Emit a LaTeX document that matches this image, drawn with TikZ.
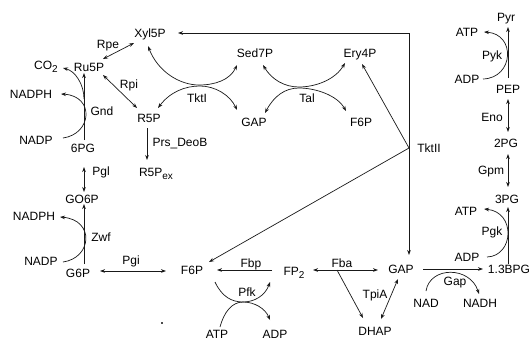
\documentclass[tikz,border=0pt]{standalone}
\usepackage{fontspec}
\setmainfont{Liberation Sans}
\usetikzlibrary{arrows.meta,calc}
\newcommand{\mysub}[1]{\raisebox{-0.45ex}{\fontsize{10}{10}\selectfont #1}}
\begin{document}
\begin{tikzpicture}[x=1pt,y=-1pt,
  lbl/.style={inner sep=0pt, text height=8.6pt, text depth=0pt, font=\fontsize{12}{14}\selectfont},
  ln/.style={line width=0.7pt, draw=black!90},
  >={Stealth[length=5pt,width=3.6pt]}]
\useasboundingbox (0,0) rectangle (532,341);
% nodes
\node[lbl] (nXyl) at (150,33) {Xyl5P};
\node[lbl] (nRpe) at (108,44) {Rpe};
\node[lbl] (nCO2) at (46,65) {CO\mysub{2}};
\node[lbl] (nRu) at (89,67) {Ru5P};
\node[lbl] (nRpi) at (129,84) {Rpi};
\node[lbl] (nNADPHa) at (31,94) {NADPH};
\node[lbl] (nGnd) at (102,111) {Gnd};
\node[lbl] (nR5P) at (149,118) {R5P};
\node[lbl] (nNADPa) at (36,140) {NADP};
\node[lbl] (n6PG) at (83,148) {6PG};
\node[lbl] (nPrs) at (180,142) {Prs\_DeoB};
\node[lbl] (nPgl) at (101,171) {Pgl};
\node[lbl] (nR5Pex) at (156,172) {R5P\mysub{ex}};
\node[lbl] (nGO6P) at (82,199) {GO6P};
\node[lbl] (nNADPHb) at (34,216) {NADPH};
\node[lbl] (nZwf) at (101,237) {Zwf};
\node[lbl] (nNADPb) at (41,261) {NADP};
\node[lbl] (nG6P) at (78,273) {G6P};
\node[lbl] (nPgi) at (131,260) {Pgi};
\node[lbl] (nF6Pb) at (192,270) {F6P};
\node[lbl] (nFbp) at (251,263) {Fbp};
\node[lbl] (nFP2) at (294,271) {FP\mysub{2}};
\node[lbl] (nFba) at (342,263) {Fba};
\node[lbl] (nPfk) at (247,292) {Pfk};
\node[lbl] (nATPc) at (217,334) {ATP};
\node[lbl] (nADPc) at (275,334) {ADP};
\node[lbl] (nDHAP) at (375,331) {DHAP};
\node[lbl] (nTpiA) at (375,294) {TpiA};
\node[lbl] (nGAPb) at (401,269) {GAP};
\node[lbl] (nGap) at (455,281) {Gap};
\node[lbl] (nNAD) at (426,303) {NAD};
\node[lbl] (nNADH) at (480,303) {NADH};
\node[lbl] (nBPG) at (509,269) {1.3BPG};
\node[lbl] (nADPb) at (467,257) {ADP};
\node[lbl] (nPgk) at (492,231) {Pgk};
\node[lbl] (nATPb) at (466,211) {ATP};
\node[lbl] (n3PG) at (507,199) {3PG};
\node[lbl] (nGpm) at (491,170) {Gpm};
\node[lbl] (n2PG) at (506,143) {2PG};
\node[lbl] (nTktII) at (429,148) {TktII};
\node[lbl] (nEno) at (492,117) {Eno};
\node[lbl] (nPEP) at (508,89) {PEP};
\node[lbl] (nADPa) at (467,79) {ADP};
\node[lbl] (nPyk) at (492,55) {Pyk};
\node[lbl] (nATPa) at (467,32) {ATP};
\node[lbl] (nPyr) at (506,17) {Pyr};
\node[lbl] (nEry) at (360,53) {Ery4P};
\node[lbl] (nSed) at (255,53) {Sed7P};
\node[lbl] (nTktI) at (197,98) {TktI};
\node[lbl] (nGAPa) at (254,122) {GAP};
\node[lbl] (nTal) at (307,98) {Tal};
\node[lbl] (nF6Pa) at (361,122) {F6P};
\node[inner sep=0pt, minimum size=1.2pt, fill=black!70] (ndot) at (162,323) {};
% junction coordinates
\coordinate (gndB) at ($(n6PG)+(1,-49)$);
\coordinate (tk) at ($(nTktII)+(-20,0)$);
\coordinate (tkTop) at ($(nTktII)+(-20,-115)$);
\coordinate (fb) at ($(nFP2)+(43,-1)$);
% Rpe, Rpi
\draw[ln,<->] ($(nRu)+(14,-8)$) -- ($(nXyl)+(-16,10)$);
\draw[ln,<->] ($(nRu)+(14,8)$) -- ($(nR5P)+(-12,-10)$);
% Gnd
\draw[ln,->] ($(n6PG)+(1,-8)$) -- ($(nRu)+(-5,6)$);
\draw[ln,->] ($(nNADPa)+(27,-2)$) .. controls (92,134) and (95,96) .. ($(nNADPHa)+(30,0)$);
\draw[ln,->] (gndB) .. controls (84,84) and (75,71) .. ($(nCO2)+(17,3)$);
% Pgl
\draw[ln,<->] ($(n6PG)+(1,19)$) -- ($(nGO6P)+(2,-7)$);
% Zwf
\draw[ln,->] ($(nG6P)+(6,-9)$) -- ($(nGO6P)+(2,5)$);
\draw[ln,->] ($(nNADPb)+(22,1)$) .. controls (92,258) and (95,220) .. ($(nNADPHb)+(26,1)$);
% Prs_DeoB
\draw[ln,->] ($(nR5P)+(-2,10)$) -- ($(nR5Pex)+(-9,-12)$);
% Pgi
\draw[ln,<->] ($(nG6P)+(22,-2)$) -- ($(nF6Pb)+(-26,1)$);
% TktI
\draw[ln,<->] ($(nXyl)+(-2,13)$) .. controls (158,72) and (180,85) .. (199,85)
  .. controls (215,85) and (230,80) .. ($(nSed)+(-18,12)$);
\draw[ln,<->] ($(nR5P)+(9,-10)$) .. controls (170,92) and (185,86) .. (200,86)
  .. controls (215,86) and (230,95) .. ($(nGAPa)+(-17,-12)$);
% Tal
\draw[ln,<->] ($(nSed)+(8,12)$) .. controls (272,80) and (285,87) .. (299,87)
  .. controls (315,87) and (335,80) .. ($(nEry)+(-15,10)$);
\draw[ln,<->] ($(nGAPa)+(11,-9)$) .. controls (274,96) and (285,88) .. (299,88)
  .. controls (315,88) and (337,95) .. ($(nF6Pa)+(-15,-11)$);
% TktII
\draw[ln,->] (tk) -- (tkTop) -- ($(nXyl)+(28,0)$);
\draw[ln,->] (tk) -- ($(nGAPb)+(8,-14)$);
\draw[ln,->] (tk) -- ($(nEry)+(2,11)$);
\draw[ln,->] (tk) -- ($(nF6Pb)+(17,-8)$);
% Pyk
\draw[ln,->] ($(nPEP)+(0,-11)$) -- ($(nPyr)+(2,10)$);
\draw[ln,->] ($(nADPa)+(16,0)$) .. controls (514,78) and (516,34) .. ($(nATPa)+(17,0)$);
% Eno, Gpm
\draw[ln,<->] ($(nPEP)+(0,10)$) -- ($(n2PG)+(2,-11)$);
\draw[ln,<->] ($(n2PG)+(2,11)$) -- ($(n3PG)+(1,-12)$);
% Pgk
\draw[ln,->] ($(nBPG)+(-1,-5)$) -- ($(n3PG)+(1,8)$);
\draw[ln,->] ($(nADPb)+(20,0)$) .. controls (514,256) and (516,212) .. ($(nATPb)+(18,-2)$);
% Gap
\draw[ln,->] ($(nGAPb)+(22,0)$) -- ($(nBPG)+(-26,0)$);
\draw[ln,->] ($(nNAD)+(0,-12)$) .. controls (430,266) and (470,266) .. ($(nNADH)+(-1,-9)$);
% Fba
\draw[ln,<->] ($(nFP2)+(19,-1)$) -- ($(nGAPb)+(-23,1)$);
\draw[ln,->] (fb) -- ($(nDHAP)+(-12,-13)$);
% Fbp
\draw[ln,->] ($(nFP2)+(-22,-1)$) -- ($(nF6Pb)+(25,0)$);
% Pfk
\draw[ln,->] ($(nF6Pb)+(23,12)$) .. controls (222,297) and (232,302) .. (243,302)
  .. controls (254,302) and (265,296) .. ($(nFP2)+(-24,11)$);
\draw[ln,->] ($(nATPc)+(3,-7)$) .. controls (224,312) and (232,302) .. (243,302)
  .. controls (254,302) and (265,308) .. ($(nADPc)+(-5,-14)$);
% TpiA
\draw[ln,<->] ($(nDHAP)+(6,-12)$) -- ($(nGAPb)+(-3,10)$);
\end{tikzpicture}
\end{document}
